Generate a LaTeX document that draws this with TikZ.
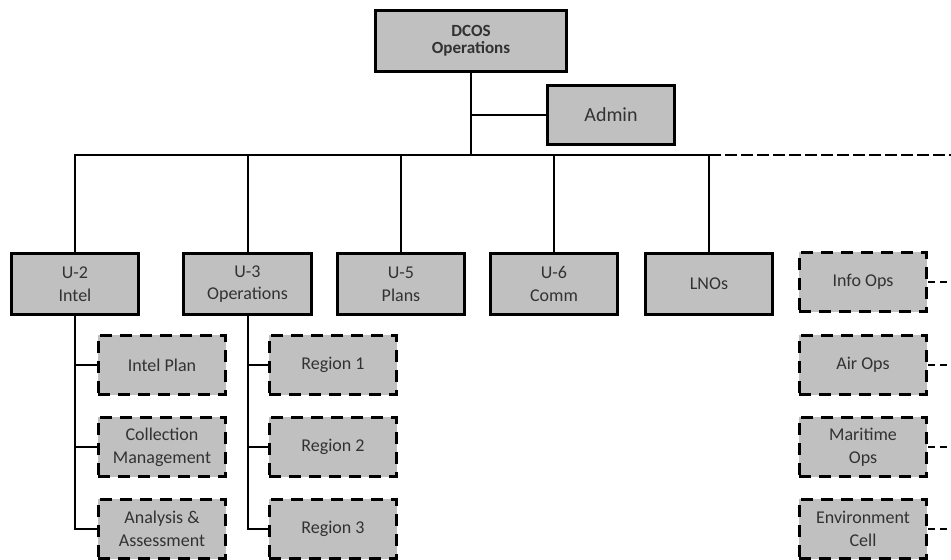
\documentclass[tikz,border=0pt]{standalone}
\usepackage{fontspec}
\setmainfont{Carlito}
\definecolor{boxgray}{RGB}{192,192,192}
\definecolor{txtgray}{RGB}{50,50,50}
\begin{document}
\begin{tikzpicture}[x=0.75pt,y=-0.75pt,line width=1.5pt,
  unit/.style={shape=rectangle,draw=black,fill=boxgray,line width=2.4pt,minimum width=95.5pt,minimum height=46pt,align=center,text=txtgray,font=\fontsize{13.5}{17}\selectfont},
  head/.style={unit,minimum width=143.5pt,font=\fontsize{12.8}{12.5}\selectfont\bfseries},
  admin/.style={unit,minimum height=44.5pt,font=\fontsize{15}{18}\selectfont},
  cell/.style={unit,minimum height=44.5pt,dash pattern=on 9pt off 6pt},
  link/.style={dash pattern=on 5pt off 4pt,line width=0.9pt},
  bus/.style={dash pattern=on 9pt off 3pt}]
\def\by{155};
\def\ry{284};
\def\ra{365};
\def\rb{447};
\def\rc{529};

\useasboundingbox (0,0) rectangle (951,560);
\clip (0,0) rectangle (951,560);

\node[head] (DCOS) at (471,41) {DCOS\\Operations};
\node[admin] (ADM) at (611,115) {Admin};
\coordinate (bus) at (471,\by);
\coordinate (busE) at (951,\by);
\coordinate (edge) at (951,0);
\draw (DCOS.south) -- (bus);
\draw (ADM.west) -- (ADM.west -| DCOS.south);

\node[unit] (U2) at (75,\ry) {U-2\\Intel};
\draw (U2.north) |- (bus);
\node[unit] (U3) at (247.5,\ry) {U-3\\Operations};
\draw (U3.north) |- (bus);
\node[unit] (U5) at (401,\ry) {U-5\\Plans};
\draw (U5.north) |- (bus);
\node[unit] (U6) at (554,\ry) {U-6\\Comm};
\draw (U6.north) |- (bus);
\node[unit] (LNO) at (709,\ry) {LNOs};
\draw (LNO.north) |- (bus);
\draw[bus] (LNO.north |- bus) -- (busE);

\node[cell] (IP) at (162,\ra) {Intel Plan};
\draw (U2.south) |- (IP.west);
\node[cell] (CM) at (162,\rb) {Collection\\Management};
\draw (U2.south) |- (CM.west);
\node[cell] (AA) at (162,\rc) {Analysis \&\\Assessment};
\draw (U2.south) |- (AA.west);

\node[cell] (R1) at (333,\ra) {Region 1};
\draw (U3.south) |- (R1.west);
\node[cell] (R2) at (333,\rb) {Region 2};
\draw (U3.south) |- (R2.west);
\node[cell] (R3) at (333,\rc) {Region 3};
\draw (U3.south) |- (R3.west);

\node[cell] (IO) at (863,282) {Info Ops};
\draw[link] (IO.east) -- (IO.east -| edge);
\node[cell] (AO) at (863,\ra) {Air Ops};
\draw[link] (AO.east) -- (AO.east -| edge);
\node[cell] (MO) at (863,\rb) {Maritime\\Ops};
\draw[link] (MO.east) -- (MO.east -| edge);
\node[cell] (EC) at (863,\rc) {Environment\\Cell};
\draw[link] (EC.east) -- (EC.east -| edge);
\end{tikzpicture}
\end{document}
